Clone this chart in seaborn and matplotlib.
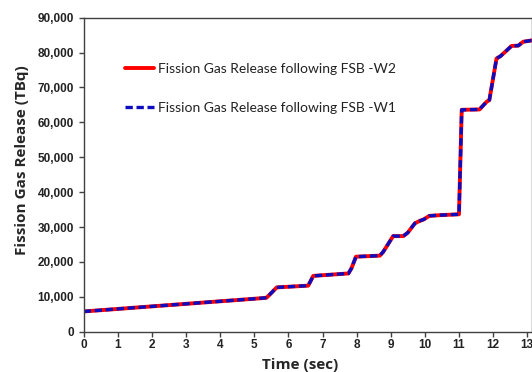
import matplotlib
matplotlib.use("Agg")
import matplotlib.pyplot as plt
import seaborn as sns
import pandas as pd
from matplotlib.ticker import FuncFormatter

# ---- data ----
time_sec = [0.0, 5.17, 5.36, 5.66, 6.58, 6.73, 7.76, 7.85, 7.98, 8.68, 8.78,
            9.07, 9.37, 9.50, 9.71, 9.86, 9.97, 10.13, 10.44, 11.00, 11.08,
            11.60, 11.81, 11.89, 12.10, 12.22, 12.54, 12.74, 12.88, 13.20]
release_w2 = [5800, 9570, 9740, 12700, 13200, 16000, 16700, 18200, 21500, 21800, 22900,
              27400, 27400, 28400, 31100, 31800, 32200, 33200, 33400, 33650, 63600,
              63700, 65900, 66400, 78300, 79000, 81900, 82000, 83100, 83600]
release_w1 = list(release_w2)

label_w2 = "Fission Gas Release following FSB -W2"
label_w1 = "Fission Gas Release following FSB -W1"
x_label = "Time (sec)"
y_label = "Fission Gas Release (TBq)"
x_ticks = list(range(0, 14))
y_ticks = list(range(0, 90001, 10000))

df_w2 = pd.DataFrame({"t": time_sec, "v": release_w2})
df_w1 = pd.DataFrame({"t": time_sec, "v": release_w1})

sns.set_theme(style="ticks")
plt.rcParams["font.family"] = ["Liberation Sans", "DejaVu Sans"]

fig = plt.figure(figsize=(5.32, 3.72), dpi=100)
ax = fig.add_axes([83.7 / 532, 1 - 331.7 / 372, 1 - 83.7 / 532, (331.7 - 17.7) / 372])

sns.lineplot(data=df_w2, x="t", y="v", ax=ax, color="#ff0000", lw=2.8,
             label=label_w2, estimator=None, sort=False)
sns.lineplot(data=df_w1, x="t", y="v", ax=ax, color="#0c0cc0", lw=2.4,
             label=label_w1, estimator=None, sort=False)
ax.lines[1].set_dashes([2.2, 1.1])

ax.set_xlim(0, 13.14)
ax.set_ylim(0, 90000)
ax.set_xticks(x_ticks)
ax.set_yticks(y_ticks)
ax.yaxis.set_major_formatter(FuncFormatter(lambda v, p: f"{int(v):,}"))

for s in ax.spines.values():
    s.set_color("#404040")
    s.set_linewidth(1.0)

ax.tick_params(axis="both", direction="out", length=3.5, width=1.0,
               color="#404040", labelsize=8.5)
ax.tick_params(axis="x", pad=2)
ax.tick_params(axis="y", pad=3.5)
for lab in ax.get_xticklabels() + ax.get_yticklabels():
    lab.set_fontweight("bold")
    lab.set_color("#222222")

ax.set_xlabel(x_label, fontsize=11, fontweight="bold", family=["Open Sans", "DejaVu Sans"])
ax.set_ylabel(y_label, fontsize=11, fontweight="bold", family=["Open Sans", "DejaVu Sans"])
ax.xaxis.set_label_coords((300 - 83.7) / (532 - 83.7), -0.085)
ax.yaxis.set_label_coords(-(83.7 - 29) / (532 - 83.7), (331.7 - 160) / 314)

leg = ax.legend(loc="upper left", bbox_to_anchor=(0.064, 0.895), frameon=False,
                handlelength=2.1, handletextpad=0.3, labelspacing=1.9,
                prop={"family": ["Lato", "DejaVu Sans"], "size": 10})
for t in leg.get_texts():
    t.set_color("#222222")

fig.savefig("out.png", dpi=100)
